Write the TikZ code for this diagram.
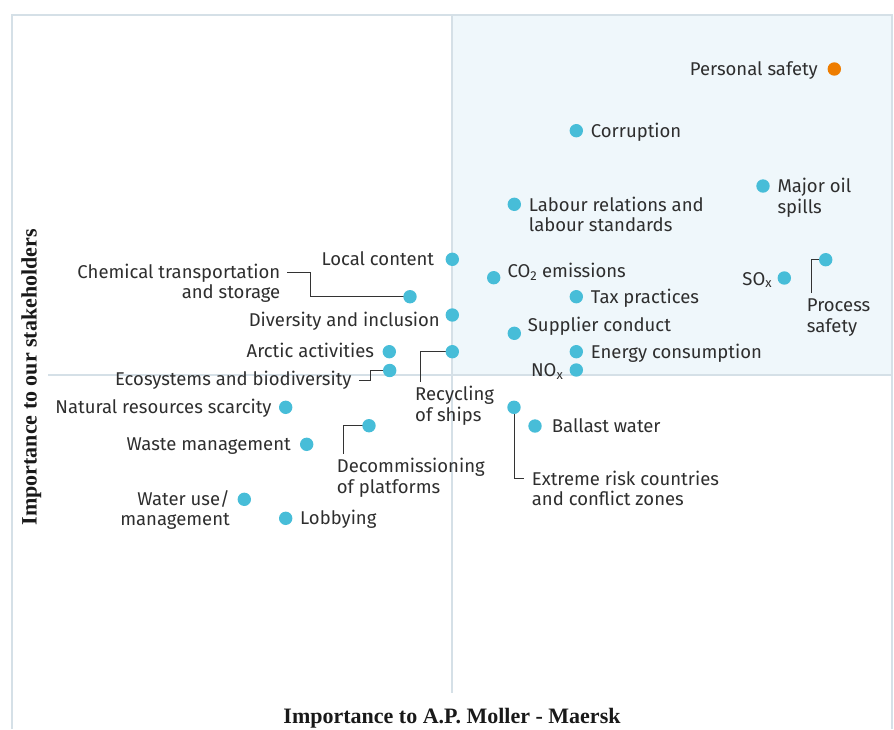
\documentclass[tikz,border=0pt]{standalone}
\usepackage{fontspec}
\setmainfont{Fira Sans}
\newfontfamily\axisfont{Liberation Serif}
\definecolor{dotc}{HTML}{47BDD8}
\definecolor{orangec}{HTML}{EE7D00}
\definecolor{shadec}{HTML}{EFF7FB}
\definecolor{framec}{HTML}{D5E0E7}
\definecolor{txtc}{HTML}{2E2E2E}
\definecolor{leadc}{HTML}{333333}
\pgfdeclarelayer{bg}
\pgfdeclarelayer{lines}
\pgfsetlayers{bg,lines,main}
\tikzset{
  dot/.style={circle, fill=dotc, inner sep=0pt, minimum size=13.4pt},
  odot/.style={dot, fill=orangec},
  lbl/.style={inner sep=0pt, text=txtc, align=left, font=\fontsize{18.5}{20.5}\selectfont},
  lblr/.style={lbl, align=right},
  lead/.style={draw=leadc, line width=1pt},
  framel/.style={draw=framec, line width=1.3pt},
  axlbl/.style={inner sep=0pt, text=black!90, font=\axisfont\bfseries\fontsize{22}{26}\selectfont}
}
\begin{document}
\begin{tikzpicture}[x=1pt,y=-1pt]
\useasboundingbox (0,0) rectangle (894,729);
\begin{pgfonlayer}{bg}
  \fill[shadec] (452,15) rectangle (892,375);
  \draw[framel] (12,729) -- (12,15) -- (892,15) -- (892,729);
  \draw[framel] (48,375) -- (892,375);
  \draw[framel] (452,15) -- (452,693);
\end{pgfonlayer}

% dots
\node[odot] (ps)   at (834.3,69) {};
\node[dot]  (cor)  at (576.3,130.7) {};
\node[dot]  (mos)  at (763,186) {};
\node[dot]  (lab)  at (514.3,204.3) {};
\node[dot]  (loc)  at (452.3,259.3) {};
\node[dot]  (co2)  at (493.7,277.7) {};
\node[dot]  (sox)  at (784.3,278) {};
\node[dot]  (proc) at (825.7,259.7) {};
\node[dot]  (chem) at (410,296.7) {};
\node[dot]  (tax)  at (576.3,296.7) {};
\node[dot]  (div)  at (452.3,315) {};
\node[dot]  (sup)  at (514.3,333.3) {};
\node[dot]  (arc)  at (389.3,351.7) {};
\node[dot]  (rec)  at (452.3,351.7) {};
\node[dot]  (ene)  at (576.3,351.7) {};
\node[dot]  (nox)  at (576.3,370) {};
\node[dot]  (eco)  at (389.7,370.5) {};
\node[dot]  (nat)  at (285.7,407.3) {};
\node[dot]  (ext)  at (514,407.3) {};
\node[dot]  (bal)  at (535,426) {};
\node[dot]  (dec)  at (369,425.7) {};
\node[dot]  (was)  at (306.7,444.3) {};
\node[dot]  (wat)  at (244.3,499.3) {};
\node[dot]  (lob)  at (285.7,518.3) {};

% labels (base anchor = baseline of the last line)
\node[lblr, anchor=base east] (psL)   at (818,75) {Personal safety};
\node[lbl,  anchor=base west] (corL)  at (590.7,137) {Corruption};
\node[lbl,  anchor=base west] (mosL)  at (777.3,213.3) {Major oil\\spills};
\node[lbl,  anchor=base west] (labL)  at (528.7,231.5) {Labour relations and\\labour standards};
\node[lblr, anchor=base east] (locL)  at (434.3,265.7) {Local content};
\node[lbl,  anchor=base west] (co2L)  at (507.3,277.3) {CO\textsubscript{2} emissions};
\node[lblr, anchor=base east] (soxL)  at (772.3,285) {SO\textsubscript{x}};
\node[lbl,  anchor=base west] (procL) at (806.7,332) {Process\\safety};
\node[lblr, anchor=base east] (chemL) at (280.5,298.5) {Chemical transportation\\and storage};
\node[lbl,  anchor=base west] (taxL)  at (590.7,303.3) {Tax practices};
\node[lblr, anchor=base east] (divL)  at (440,326) {Diversity and inclusion};
\node[lbl,  anchor=base west] (supL)  at (527.7,331.7) {Supplier conduct};
\node[lblr, anchor=base east] (arcL)  at (374.3,357.3) {Arctic activities};
\node[lbl,  anchor=base west] (recL)  at (415,421) {Recycling\\of ships};
\node[lbl,  anchor=base west] (eneL)  at (590.7,358.3) {Energy consumption};
\node[lblr, anchor=base east] (noxL)  at (563.5,376.7) {NO\textsubscript{x}};
\node[lblr, anchor=base east] (ecoL)  at (351.7,385) {Ecosystems and biodiversity};
\node[lblr, anchor=base east] (natL)  at (271.7,413.3) {Natural resources scarcity};
\node[lbl,  anchor=base west] (extL)  at (531.7,505.5) {Extreme risk countries\\and conflict zones};
\node[lbl,  anchor=base west] (balL)  at (551.7,432.3) {Ballast water};
\node[lbl,  anchor=base west] (decL)  at (336.7,493) {Decommissioning\\of platforms};
\node[lblr, anchor=base east] (wasL)  at (291,450) {Waste management};
\node[lblr, anchor=base east] (watL)  at (230,525.7) {Water use/\\management};
\node[lbl,  anchor=base west] (lobL)  at (300,524.3) {Lobbying};

% leader end points
\coordinate (chemA) at (310,296.7);
\coordinate (chemB) at (310,272.7);
\coordinate (chemC) at (287,272.7);
\coordinate (ecoA)  at (370,370.5);
\coordinate (ecoB)  at (370,380.7);
\coordinate (ecoC)  at (359,380.7);
\coordinate (recA)  at (420.7,351.7);
\coordinate (recB)  at (420.7,382.3);
\coordinate (decA)  at (343.3,425.7);
\coordinate (decB)  at (343.3,454);
\coordinate (extA)  at (514,478.3);
\coordinate (extB)  at (524,478.3);
\coordinate (procA) at (811.7,259.7);
\coordinate (procB) at (811.7,293.3);

\begin{pgfonlayer}{lines}
  \draw[lead] (chem.center) -- (chemA) -- (chemB) -- (chemC);
  \draw[lead] (eco.center) -- (ecoA) -- (ecoB) -- (ecoC);
  \draw[lead] (rec.center) -- (recA) -- (recB);
  \draw[lead] (dec.center) -- (decA) -- (decB);
  \draw[lead] (ext.center) -- (extA) -- (extB);
  \draw[lead] (proc.center) -- (procA) -- (procB);
\end{pgfonlayer}

% axis titles
\node[axlbl, anchor=base] (xax) at (452,723.3) {Importance to A.P. Moller - Maersk};
\node[axlbl, anchor=base, rotate=90] (yax) at (36.7,377.2) {Importance to our stakeholders};
\end{tikzpicture}
\end{document}
